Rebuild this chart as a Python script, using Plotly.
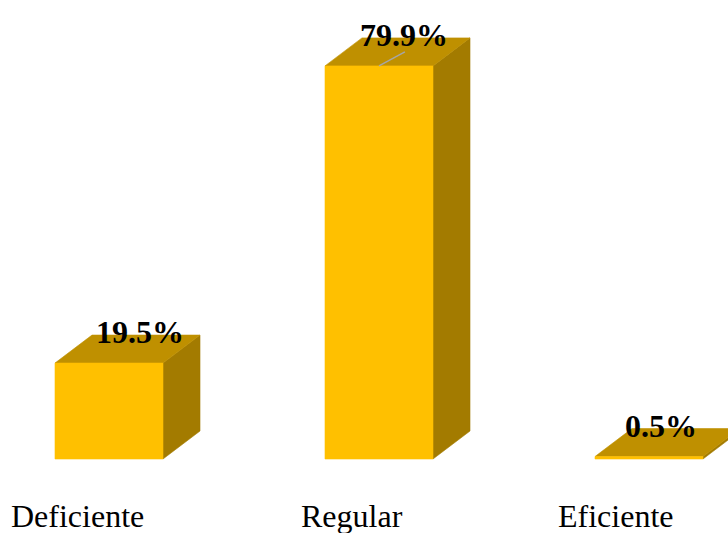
import plotly.graph_objects as go

# ---- data ----
categories = ["Deficiente", "Regular", "Eficiente"]
values = [19.5, 79.9, 0.5]
value_labels = ["19.5%", "79.9%", "0.5%"]

# ---- geometry / style (pixel based) ----
W, H = 728, 533
x0_px, step_px = 109, 270          # centre of first front face, spacing between categories
base_px, k = 459, 4.92             # pixel of 0%, pixels per 1%
half_w = 54 / step_px              # half width of front face in category units
dx = 37 / step_px                  # depth offset x (category units)
dy = 28 / k                        # depth offset y (percent units)

x_range = [-x0_px / step_px, (W - x0_px) / step_px]
y_range = [-(H - base_px) / k, base_px / k]

FRONT = "#FFC000"
TOP = "#BF9000"
SIDE = "#A37B00"

fig = go.Figure()


def poly(xs, ys, color):
    fig.add_trace(go.Scatter(
        x=xs + [xs[0]], y=ys + [ys[0]], mode="lines", fill="toself",
        fillcolor=color, line=dict(color=color, width=0.6),
        hoverinfo="skip", showlegend=False))


for i, v in enumerate(values):
    xl, xr = i - half_w, i + half_w
    # side face
    poly([xr, xr + dx, xr + dx, xr], [0, dy, v + dy, v], SIDE)
    # top face
    poly([xl, xr, xr + dx, xl + dx], [v, v, v + dy, v + dy], TOP)
    # front face
    poly([xl, xr, xr, xl], [0, 0, v, v], FRONT)

# leader line for the tallest bar label
imax = values.index(max(values))
fig.add_trace(go.Scatter(
    x=[imax, imax + dx * 0.7], y=[values[imax], values[imax] + dy * 0.5],
    mode="lines", line=dict(color="#A6A6A6", width=1.5),
    hoverinfo="skip", showlegend=False))

label_shift_px = [31, 25, 12]
for i, (v, t) in enumerate(zip(values, value_labels)):
    fig.add_annotation(
        x=i, y=v + dy, text=f"<b>{t}</b>", showarrow=False,
        xshift=label_shift_px[i], yshift=3, yanchor="middle",
        font=dict(family="Liberation Serif", size=32, color="black"))

cat_shift_px = [-32, -27, -34]
for i, c in enumerate(categories):
    fig.add_annotation(
        x=i, y=y_range[0], yref="y", text=c, showarrow=False,
        xshift=cat_shift_px[i], yshift=17, yanchor="middle",
        font=dict(family="Liberation Serif", size=32, color="black"))

fig.update_layout(
    width=W, height=H,
    margin=dict(l=0, r=0, t=0, b=0),
    paper_bgcolor="white", plot_bgcolor="white",
    xaxis=dict(range=x_range, visible=False, fixedrange=True),
    yaxis=dict(range=y_range, visible=False, fixedrange=True),
    showlegend=False,
)

fig.write_html(
    "out.html",
    config={"displayModeBar": False},
    post_script="document.body.style.margin='0';document.body.style.overflow='hidden';",
)
